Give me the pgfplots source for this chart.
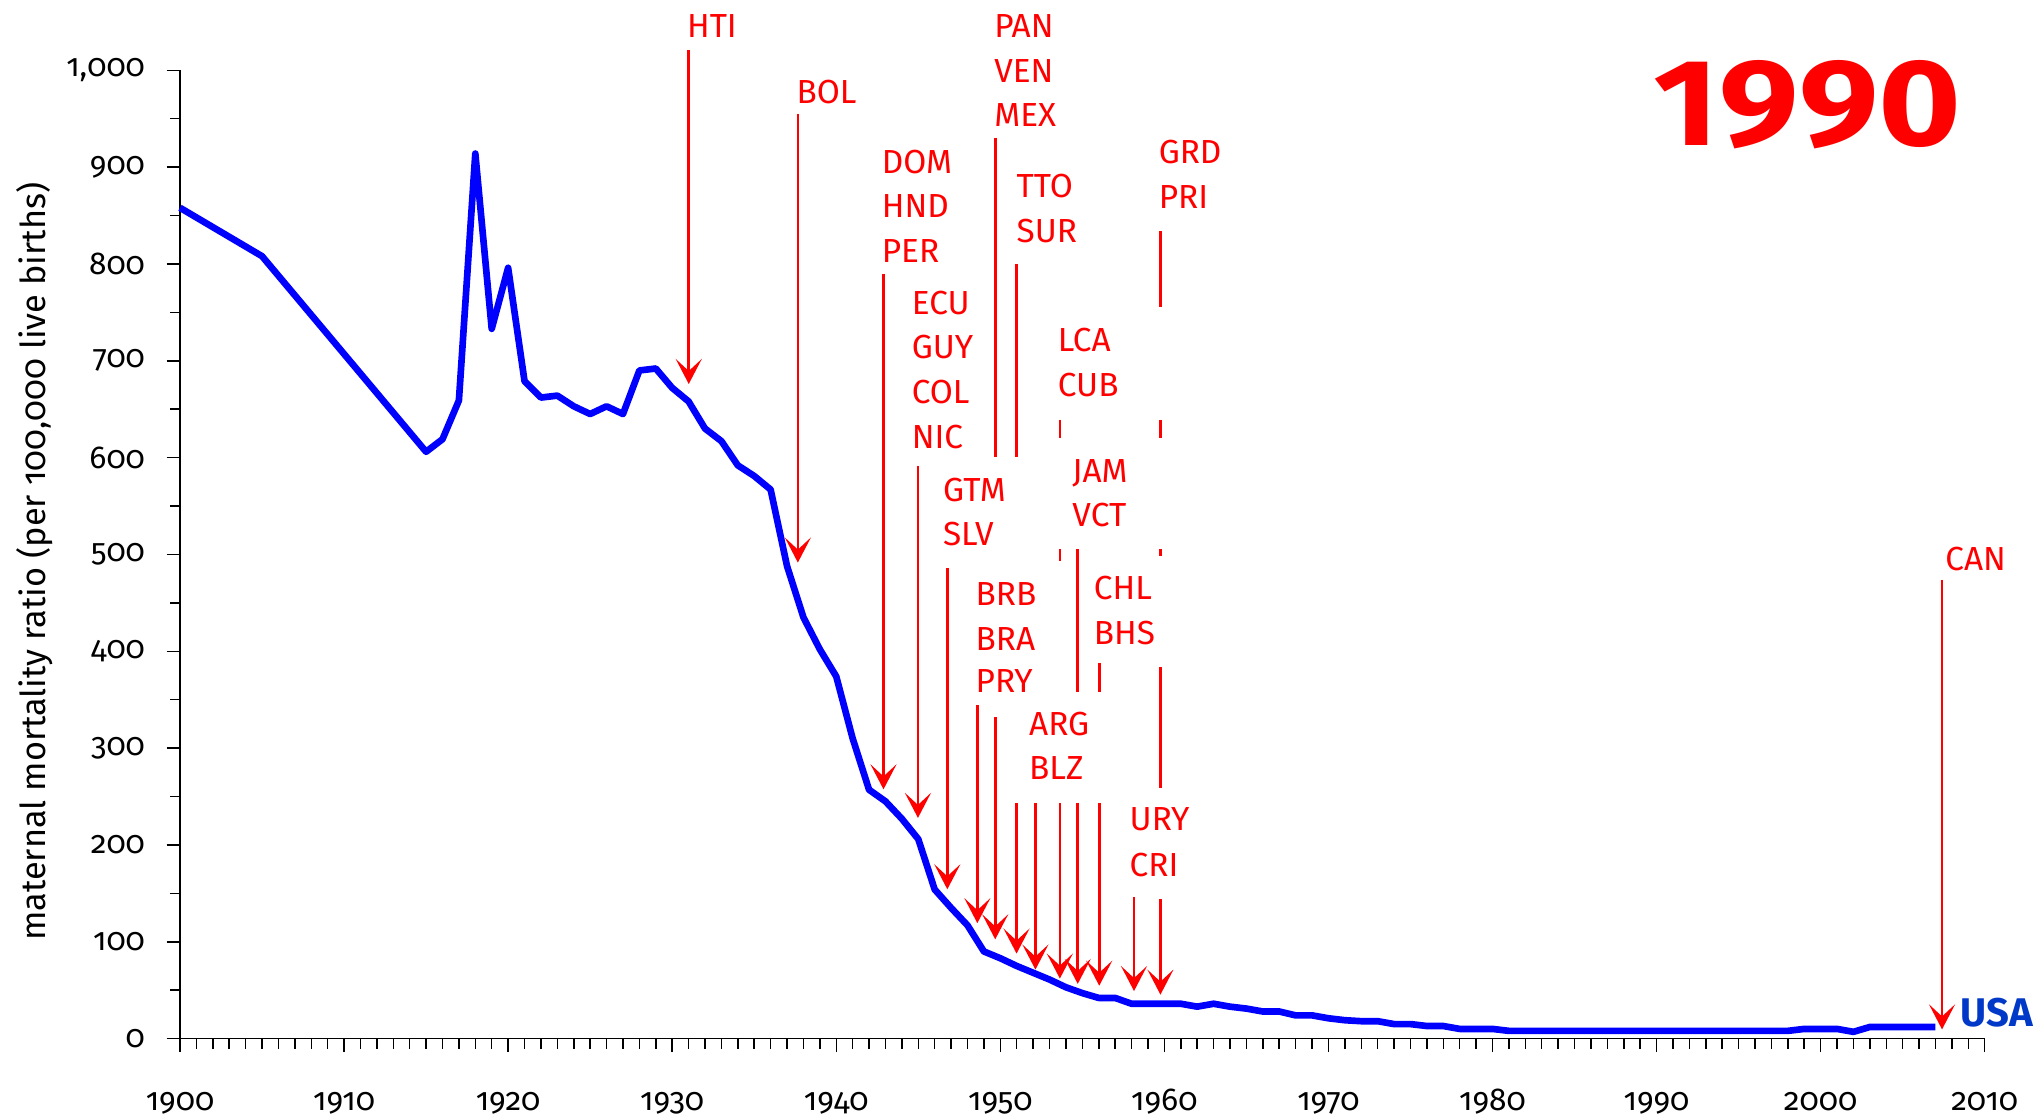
\documentclass[border=0pt]{standalone}
\usepackage{fontspec}
\setmainfont{Fira Sans}[Numbers=OldStyle]
\usepackage{pgfplots}
\pgfplotsset{compat=1.18}
\usetikzlibrary{arrows.meta}
\definecolor{lineblue}{RGB}{0,0,255}
\definecolor{usablue}{RGB}{0,56,200}
\definecolor{arrred}{RGB}{255,0,0}
\pgfplotsset{
  arr/.style={arrred, line width=0.8pt, -{Stealth[length=7.5pt,width=7.8pt,inset=3.6pt]}},
  seg/.style={arrred, line width=0.8pt},
}
\newcommand\lab[3]{\node[anchor=base west, inner sep=0pt, xshift=-0.7pt, text=arrred, font=\fontsize{10}{12}\selectfont] at (axis cs:#1,#2) {#3};}

\begin{document}
\begin{tikzpicture}
\begin{axis}[
  at={(0,0)}, anchor=south west,
  scale only axis, width=541.4pt, height=290.5pt,
  xmin=1900, xmax=2010, ymin=0, ymax=1000,
  axis x line*=bottom, axis y line*=left,
  axis line style={black, line width=0.45pt},
  xtick={1900,1910,...,2010}, minor x tick num=9,
  ytick={0,100,...,1000}, minor y tick num=1,
  tick align=outside, major tick length=4pt, minor tick length=3pt,
  tick style={black, line width=0.45pt},
  xticklabel style={font=\fontsize{9.5}{11}\selectfont, anchor=base, yshift=-17.6pt},
  yticklabel style={font=\fontsize{9.5}{11}\selectfont, xshift=-3pt},
  /pgf/number format/assume math mode=true,
  x tick label style={/pgf/number format/1000 sep={}},
  y tick label style={/pgf/number format/1000 sep={,}},
  clip=false,
]
\addplot[lineblue, line width=2pt, line join=round] coordinates {
(1900,858) (1905,808) (1915,606) (1916,619) (1917,659) (1918,914) (1919,733) (1920,796)
(1921,679) (1922,662) (1923,664) (1924,653) (1925,645) (1926,653) (1927,645) (1928,690)
(1929,692) (1930,672) (1931,658) (1932,630) (1933,617) (1934,592) (1935,581) (1936,567)
(1937,488) (1938,435) (1939,402) (1940,374) (1941,310) (1942,257) (1943,245) (1944,227)
(1945,206) (1946,154) (1947,135) (1948,117) (1949,90) (1950,83) (1951,75) (1952,68)
(1953,61) (1954,53) (1955,47) (1956,42) (1957,42) (1958,36) (1959,36) (1960,36)
(1961,36) (1962,33) (1963,36) (1964,33) (1965,31) (1966,28) (1967,28) (1968,24)
(1969,24) (1970,21) (1971,19) (1972,18) (1973,18) (1974,15) (1975,15) (1976,13)
(1977,13) (1978,10) (1979,10) (1980,10) (1981,8) (1982,8) (1983,8) (1984,8)
(1985,8) (1986,8) (1987,8) (1988,8) (1989,8) (1990,8) (1991,8) (1992,8)
(1993,8) (1994,8) (1995,8) (1996,8) (1997,8) (1998,8) (1999,10) (2000,10)
(2001,10) (2002,7) (2003,12) (2004,12) (2005,12) (2006,12) (2007,12)
};
% arrows
\addplot[arr] coordinates {(1931.01,1020.9) (1931.01,676)};
\addplot[arr] coordinates {(1937.66,955.2) (1937.66,491.6)};
\addplot[arr] coordinates {(1942.88,789.2) (1942.88,257.4)};
\addplot[arr] coordinates {(1944.98,591.2) (1944.98,227.9)};
\addplot[arr] coordinates {(1946.77,486.1) (1946.77,154.2)};
\addplot[arr] coordinates {(1948.60,344.1) (1948.60,119.2)};
\addplot[seg] coordinates {(1949.69,930.5) (1949.69,600.5)};
\addplot[arr] coordinates {(1949.69,332.3) (1949.69,102.5)};
\addplot[seg] coordinates {(1950.99,799.6) (1950.99,600.5)};
\addplot[arr] coordinates {(1950.99,243.4) (1950.99,87.8)};
\addplot[arr] coordinates {(1952.14,243.4) (1952.14,71.3)};
\addplot[seg] coordinates {(1953.63,639.2) (1953.63,620.7)};
\addplot[seg] coordinates {(1953.63,505.3) (1953.63,493.5)};
\addplot[arr] coordinates {(1953.63,243.4) (1953.63,62.0)};
\addplot[seg] coordinates {(1954.72,505.3) (1954.72,357.8)};
\addplot[arr] coordinates {(1954.72,243.4) (1954.72,56.5)};
\addplot[seg] coordinates {(1956.03,388.4) (1956.03,357.8)};
\addplot[arr] coordinates {(1956.03,243.4) (1956.03,54.6)};
\addplot[arr] coordinates {(1958.15,146.1) (1958.15,49.1)};
\addplot[seg] coordinates {(1959.76,833.5) (1959.76,755.4)};
\addplot[seg] coordinates {(1959.76,639.2) (1959.76,620.7)};
\addplot[seg] coordinates {(1959.76,505.3) (1959.76,498.7)};
\addplot[seg] coordinates {(1959.76,383.6) (1959.76,259.3)};
\addplot[arr] coordinates {(1959.76,143.8) (1959.76,45.4)};
\addplot[arr] coordinates {(2007.4,473.2) (2007.4,9.5)};
% labels
\lab{1931.01}{1033.8}{HTI}
\lab{1937.68}{965.5}{BOL}
\lab{1949.74}{1033.8}{PAN}
\lab{1949.74}{987.7}{VEN}
\lab{1949.74}{941.5}{MEX}
\lab{1942.88}{893.6}{DOM}
\lab{1942.88}{847.5}{HND}
\lab{1942.88}{801.5}{PER}
\lab{1951.10}{868.5}{TTO}
\lab{1951.10}{822.5}{SUR}
\lab{1959.76}{903.5}{GRD}
\lab{1959.76}{857.5}{PRI}
\lab{1944.71}{747.9}{ECU}
\lab{1944.71}{701.9}{GUY}
\lab{1944.71}{655.7}{COL}
\lab{1944.71}{609.7}{NIC}
\lab{1953.61}{709.2}{LCA}
\lab{1953.61}{663.1}{CUB}
\lab{1954.50}{574.7}{JAM}
\lab{1954.50}{528.5}{VCT}
\lab{1946.61}{555.1}{GTM}
\lab{1946.61}{509.0}{SLV}
\lab{1948.60}{447.3}{BRB}
\lab{1948.60}{401.3}{BRA}
\lab{1948.60}{357.0}{PRY}
\lab{1955.81}{453.6}{CHL}
\lab{1955.81}{406.9}{BHS}
\lab{1951.86}{312.8}{ARG}
\lab{1951.86}{267.4}{BLZ}
\lab{1957.99}{215.0}{URY}
\lab{1957.99}{167.8}{CRI}
\lab{2007.71}{483.5}{CAN}
\node[anchor=base west, inner sep=0pt, text=arrred, font=\fontsize{37}{40}\selectfont\bfseries] at (axis cs:1989.8,922.8) {\scalebox{1.15}[1]{\addfontfeatures{Numbers=Lining}1990}};
\node[anchor=base west, inner sep=0pt, text=usablue, font=\fontsize{12}{14}\selectfont\bfseries] at (axis cs:2008.5,12.3) {USA};
\node[rotate=90, inner sep=0pt, font=\fontsize{10.3}{12.5}\selectfont] at (axis cs:1891.16,492.5) {maternal mortality ratio (per 100,000 live births)};
\end{axis}
\pgfresetboundingbox
\useasboundingbox (-54pt,-23.52pt) rectangle (558.3pt,311.58pt);
\end{tikzpicture}
\end{document}
